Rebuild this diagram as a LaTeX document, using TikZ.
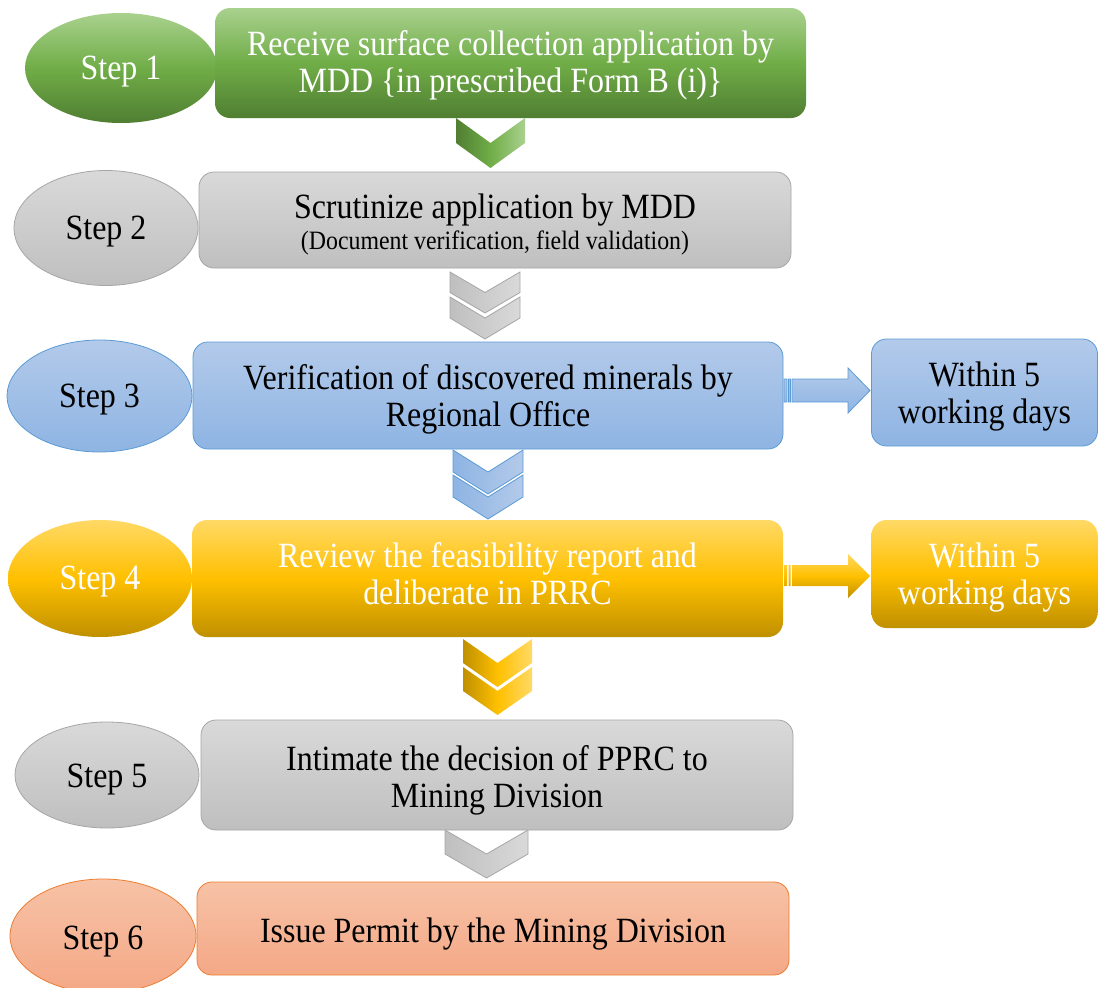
\documentclass[tikz,border=0pt]{standalone}
\usepackage{fontspec}
\setmainfont{Liberation Serif}[FakeStretch=0.9]
\usetikzlibrary{shapes.geometric}
\definecolor{gA}{HTML}{A9D18E}\definecolor{gB}{HTML}{70AD47}\definecolor{gC}{HTML}{507E32}
\definecolor{yA}{HTML}{BFBFBF}\definecolor{yB}{HTML}{D9D9D9}\definecolor{yD}{HTML}{A6A6A6}
\definecolor{bA}{HTML}{B3CAEA}\definecolor{bC}{HTML}{8EB4E3}\definecolor{bD}{HTML}{5B9BD5}
\definecolor{oA}{HTML}{FFD966}\definecolor{oB}{HTML}{FFC000}\definecolor{oC}{HTML}{BF9000}
\definecolor{sA}{HTML}{F7C2A6}\definecolor{sC}{HTML}{F4A886}\definecolor{sD}{HTML}{ED7D31}
\newcommand{\chevshape}[5]{%
  \path[#1] (#2,#4) -- ({(#2+#3)/2},{#4+#5}) -- (#3,#4) -- (#3,{#4+#5})
    -- ({(#2+#3)/2},{#4+2*#5}) -- (#2,{#4+#5}) -- cycle;}
\tikzset{
  base/.style={inner sep=0pt},
  txt/.style={inner sep=0pt, align=center, font=\fontsize{35.5}{37}\selectfont},
  wtxt/.style={txt, text=white},
  stepbox/.style={base, rectangle, rounded corners=15pt},
  stepell/.style={base, ellipse},
  fgreen/.style={top color=gA, bottom color=gC, middle color=gB, draw=none},
  fgray/.style={top color=yB, bottom color=yA, draw=yD, line width=0.8pt},
  fblue/.style={top color=bA, bottom color=bC, draw=bD, line width=0.8pt},
  fgold/.style={top color=oA, bottom color=oC, middle color=oB, draw=none},
  fsalmon/.style={top color=sA, bottom color=sC, draw=sD, line width=0.8pt},
  cgreen/.style={left color=gC, right color=gA, middle color=gB, draw=none},
  cgray/.style={left color=yA, right color=yB, draw=yD, line width=0.8pt},
  cblue/.style={left color=bC, right color=bA, draw=bD, line width=0.8pt},
  cgold/.style={left color=oC, right color=oA, middle color=oB, draw=none},
}
\begin{document}
\begin{tikzpicture}[x=1pt,y=-1pt]
\fill[white] (0,0) rectangle (1098,988);
\clip (0,0) rectangle (1098,988);
% ellipses
\node[stepell, fgreen, minimum width=192pt, minimum height=110pt] (e1) at (121,68) {};
\node[stepell, fgray, minimum width=184pt, minimum height=115pt] (e2) at (106,228) {};
\node[stepell, fblue, minimum width=185pt, minimum height=112pt] (e3) at (99.5,396) {};
\node[stepell, fgold, minimum width=184pt, minimum height=117pt] (e4) at (100,578.5) {};
\node[stepell, fgray, minimum width=184pt, minimum height=106pt] (e5) at (107,775) {};
\node[stepell, fsalmon, minimum width=186pt, minimum height=114pt] (e6) at (103,936) {};
\node[wtxt] (te1) at ([yshift=-4pt]e1.center) {Step 1};
\node[txt] (te2) at ([yshift=-4pt]e2.center) {Step 2};
\node[txt] (te3) at ([yshift=-4pt]e3.center) {Step 3};
\node[wtxt] (te4) at ([yshift=-3pt]e4.center) {Step 4};
\node[txt] (te5) at ([yshift=-5pt]e5.center) {Step 5};
\node[txt] (te6) at ([yshift=-6pt]e6.center) {Step 6};
% chevrons
\chevshape{cgreen}{456}{525}{118}{25}
\chevshape{cgray}{450}{520}{272}{20.5}
\chevshape{cgray}{450}{520}{297}{21}
\chevshape{cblue}{453}{523}{450}{22}
\chevshape{cblue}{453}{523}{475}{22}
\chevshape{cgold}{463}{532}{639}{24}
\chevshape{cgold}{463}{532}{667}{24}
\chevshape{cgray}{445}{528}{830}{24}
% boxes
\node[stepbox, fgreen, minimum width=591pt, minimum height=110pt] (b1) at (510.5,63) {};
\node[stepbox, fgray, minimum width=592pt, minimum height=96pt] (b2) at (495,220) {};
\node[stepbox, fblue, minimum width=590pt, minimum height=107pt] (b3) at (488,395.5) {};
\node[stepbox, fgold, minimum width=591pt, minimum height=117pt] (b4) at (487.5,578.5) {};
\node[stepbox, fgray, minimum width=592pt, minimum height=110pt] (b5) at (497,775) {};
\node[stepbox, fsalmon, minimum width=592pt, minimum height=93pt] (b6) at (493,928.5) {};
\node[wtxt] (tb1) at ([yshift=-2pt]b1.center)
  {Receive surface collection application by\\MDD \{in prescribed Form B (i)\}};
\node[txt] (tb2) at ([yshift=-5pt]b2.center)
  {Scrutinize application by MDD\\[-6pt]\fontsize{26.5}{28}\selectfont (Document verification, field validation)};
\node[txt] (tb3) at ([yshift=-3.5pt]b3.center)
  {Verification of discovered minerals by\\Regional Office};
\node[wtxt] (tb4) at ([yshift=5pt]b4.center)
  {Review the feasibility report and\\deliberate in PRRC};
\node[txt] (tb5) at ([yshift=-5pt]b5.center)
  {Intimate the decision of PPRC to\\Mining Division};
\node[txt] (tb6) at ([yshift=-6pt]b6.center)
  {Issue Permit by the Mining Division};
% side boxes
\node[stepbox, fblue, minimum width=226pt, minimum height=107pt] (s3) at (984.5,392.5) {};
\node[stepbox, fgold, minimum width=226pt, minimum height=108pt] (s4) at (984.5,574) {};
\node[txt] (ts3) at ([yshift=-4.5pt]s3.center) {Within 5\\working days};
\node[wtxt] (ts4) at ([yshift=-4pt]s4.center) {Within 5\\working days};
% block arrows
\path[top color=bA, bottom color=bC, draw=bD, line width=0.8pt]
  (784,379) rectangle (787,402) (788.5,379) rectangle (790.5,402)
  (792,379) -- (848,379) -- (848,368) -- (870,390.5) -- (848,413) -- (848,402) -- (792,402) -- cycle;
\path[top color=oA, bottom color=oC, middle color=oB]
  (784,565) rectangle (787,586) (788.5,565) rectangle (790.5,586)
  (792,565) -- (848,565) -- (848,554) -- (870,576) -- (848,598) -- (848,586) -- (792,586) -- cycle;
\end{tikzpicture}
\end{document}
